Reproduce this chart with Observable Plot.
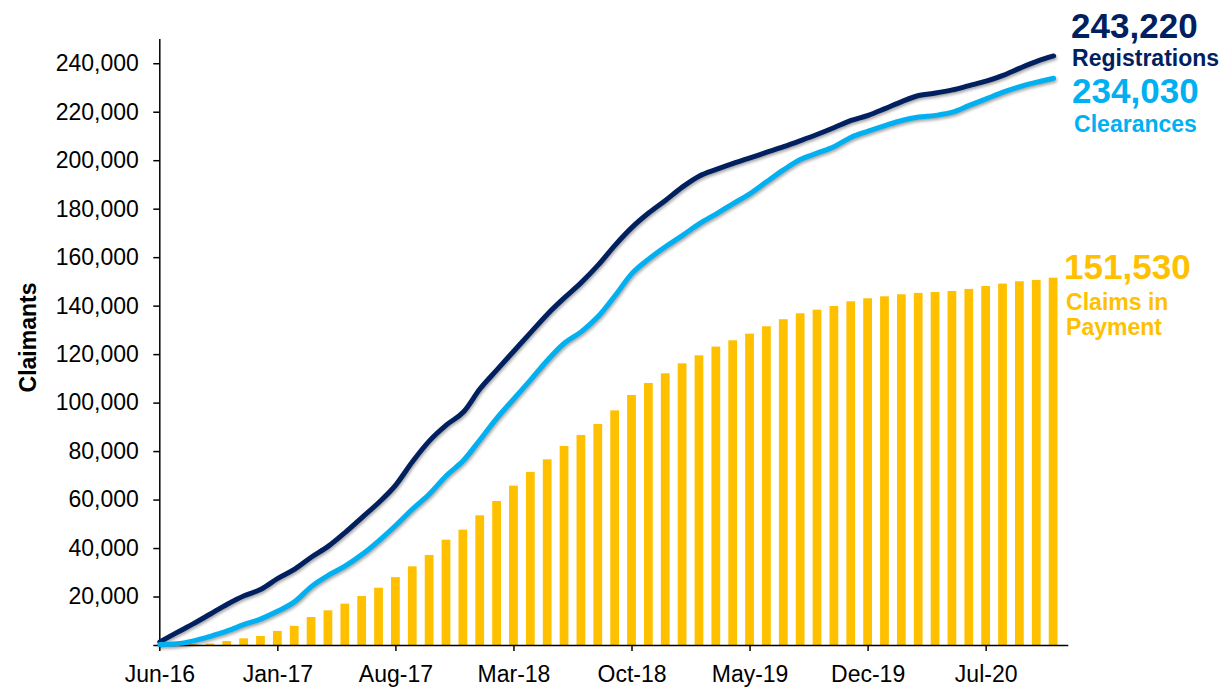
<!DOCTYPE html>
<html>
<head>
<meta charset="utf-8">
<script src="https://cdn.jsdelivr.net/npm/d3@7"></script>
<script src="https://cdn.jsdelivr.net/npm/@observablehq/plot@0.6"></script>
<style>
  html, body { margin: 0; padding: 0; background: #fff; }
  #chart svg { display: block; }
</style>
</head>
<body>
<div id="chart"></div>
<script>
// ---- Data ----
const months = [
  "Jun-16","Jul-16","Aug-16","Sep-16","Oct-16","Nov-16","Dec-16",
  "Jan-17","Feb-17","Mar-17","Apr-17","May-17","Jun-17","Jul-17","Aug-17","Sep-17","Oct-17","Nov-17","Dec-17",
  "Jan-18","Feb-18","Mar-18","Apr-18","May-18","Jun-18","Jul-18","Aug-18","Sep-18","Oct-18","Nov-18","Dec-18",
  "Jan-19","Feb-19","Mar-19","Apr-19","May-19","Jun-19","Jul-19","Aug-19","Sep-19","Oct-19","Nov-19","Dec-19",
  "Jan-20","Feb-20","Mar-20","Apr-20","May-20","Jun-20","Jul-20","Aug-20","Sep-20","Oct-20","Nov-20"
];

const registrations = [
  1500, 5300, 9000, 13000, 17000, 20500, 23200, 27700, 31500, 36500,
  41000, 46700, 52900, 59100, 66300, 76000, 84500, 91000, 96300, 106000,
  113800, 121500, 129200, 136800, 143500, 149800, 157000, 165200, 172500, 178500,
  183700, 189200, 193700, 196400, 198900, 201200, 203500, 205800, 208300, 210900,
  213700, 216600, 218700, 221500, 224400, 226900, 227900, 229200, 231000, 232800,
  235200, 238200, 241000, 243220
];

const clearances = [
  400, 700, 1900, 3800, 6000, 8700, 11000, 14200, 18100, 24400,
  29000, 32800, 37600, 43300, 49600, 56400, 62600, 70150, 76300, 85000,
  93900, 101800, 109700, 117800, 124800, 129500, 135800, 144400, 153500, 159500,
  164600, 169200, 174000, 178100, 182300, 186400, 191400, 196300, 200600, 203200,
  205900, 209700, 212200, 214500, 216600, 218000, 218700, 220000, 222800, 225500,
  228300, 230600, 232400, 234030
];

const claimsInPayment = [
  0, 100, 300, 600, 1650, 2750, 3700, 5800, 7900, 11550,
  14300, 17050, 20200, 23650, 28000, 32450, 37150, 43450, 47600, 53500,
  59400, 65750, 71400, 76600, 82100, 86650, 91200, 96800, 103150, 108100,
  112100, 116200, 119500, 123100, 125700, 128450, 131500, 134400, 136850, 138350,
  139850, 141800, 143050, 143850, 144700, 145250, 145650, 146050, 146900, 148100,
  149100, 150050, 150600, 151530
];

const xTickLabels = ["Jun-16","Jan-17","Aug-17","Mar-18","Oct-18","May-19","Dec-19","Jul-20"];
const yTicks = [0, 20000, 40000, 60000, 80000, 100000, 120000, 140000, 160000, 180000, 200000, 220000, 240000];
const seriesNames = ["Registrations", "Clearances", "Claims in", "Payment"];
const yAxisTitle = "Claimants";

// ---- Styling ----
const NAVY = "#002060";
const SKY = "#00B0F0";
const GOLD = "#FFC000";
const FONT = "Arial, 'Liberation Sans', sans-serif";

const rows = months.map((m, i) => ({
  i, month: m,
  reg: registrations[i], clr: clearances[i], pay: claimsInPayment[i]
}));
const last = rows[rows.length - 1];
const fmt = d3.format(",");
const xTickIdx = xTickLabels.map(l => months.indexOf(l));
const shadow = "drop-shadow(1.5px 2.5px 1.5px rgba(0,0,0,0.35))";

const chart = Plot.plot({
  width: 1227,
  height: 687,
  marginLeft: 159.3,
  marginRight: 158.7,
  marginTop: 39,
  marginBottom: 42,
  style: { fontFamily: FONT, fontSize: "23px", color: "#000", background: "#fff", overflow: "visible" },
  x: { type: "linear", domain: [0, 53.9], axis: null },
  y: { domain: [0, 250000], axis: null },
  marks: [
    Plot.rectY(rows, { x1: d => d.i - 0.26, x2: d => d.i + 0.26, y: "pay", fill: GOLD }),
    Plot.ruleY([0], { stroke: "#000", strokeWidth: 1.5 }),
    Plot.ruleX([0], { stroke: "#000", strokeWidth: 1.5 }),
    Plot.axisX({ ticks: xTickIdx, tickFormat: i => months[i], tickSize: 6, tickPadding: 14, strokeWidth: 1.5, label: null }),
    Plot.axisY({ ticks: yTicks, tickFormat: v => v === 0 ? "" : fmt(v), tickSize: 6, tickPadding: 15, strokeWidth: 1.5, label: null }),
    Plot.text([yAxisTitle], { text: d => d, frameAnchor: "left", textAnchor: "middle", rotate: -90, dx: -131, dy: -5, fontWeight: "bold", fontSize: 23, fill: "#000" }),
    Plot.line(rows, { x: "i", y: "reg", stroke: NAVY, strokeWidth: 5, strokeLinecap: "round", strokeLinejoin: "round", curve: "monotone-x", imageFilter: shadow }),
    Plot.line(rows, { x: "i", y: "clr", stroke: SKY, strokeWidth: 5, strokeLinecap: "round", strokeLinejoin: "round", curve: "monotone-x", imageFilter: shadow }),
    // end labels
    Plot.text([last], { x: "i", y: "reg", text: d => fmt(d.reg), textAnchor: "start", lineAnchor: "bottom", dx: 17.5, dy: -18, fontSize: 35, fontWeight: "bold", fill: NAVY }),
    Plot.text([last], { x: "i", y: "reg", text: () => seriesNames[0], textAnchor: "start", lineAnchor: "bottom", dx: 18.5, dy: 10.5, fontSize: 23, fontWeight: "bold", fill: NAVY }),
    Plot.text([last], { x: "i", y: "clr", text: d => fmt(d.clr), textAnchor: "start", lineAnchor: "bottom", dx: 18.5, dy: 25, fontSize: 35, fontWeight: "bold", fill: SKY }),
    Plot.text([last], { x: "i", y: "clr", text: () => seriesNames[1], textAnchor: "start", lineAnchor: "bottom", dx: 20.5, dy: 54, fontSize: 23, fontWeight: "bold", fill: SKY }),
    Plot.text([last], { x: "i", y: "pay", text: d => fmt(d.pay), textAnchor: "start", lineAnchor: "bottom", dx: 10.5, dy: 0.6, fontSize: 35, fontWeight: "bold", fill: GOLD }),
    Plot.text([last], { x: "i", y: "pay", text: () => seriesNames[2], textAnchor: "start", lineAnchor: "bottom", dx: 12.5, dy: 32, fontSize: 23, fontWeight: "bold", fill: GOLD }),
    Plot.text([last], { x: "i", y: "pay", text: () => seriesNames[3], textAnchor: "start", lineAnchor: "bottom", dx: 12.5, dy: 57, fontSize: 23, fontWeight: "bold", fill: GOLD })
  ]
});

document.getElementById("chart").appendChild(chart);
</script>
</body>
</html>
